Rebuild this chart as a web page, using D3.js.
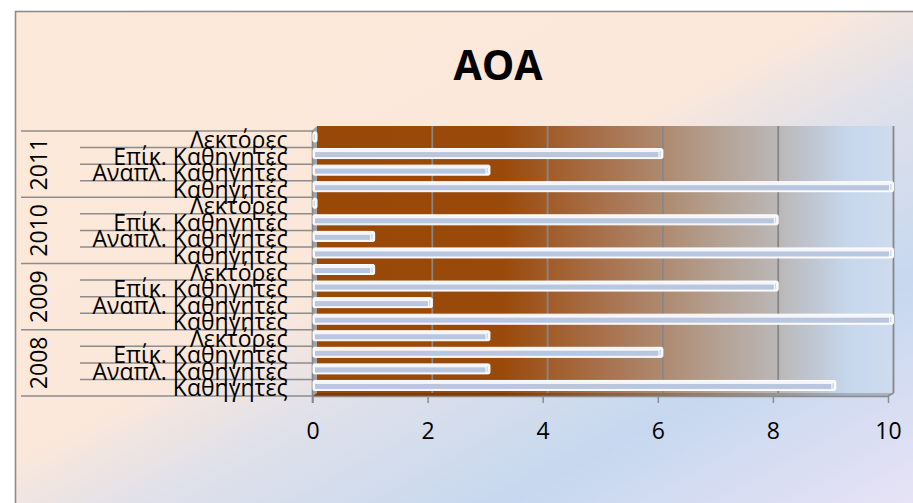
<!DOCTYPE html>
<html><head><meta charset="utf-8">
<script src="https://cdn.jsdelivr.net/npm/d3@7/dist/d3.min.js"></script>
<style>body{margin:0;background:#fff}svg{display:block}</style>
</head><body><svg id="c" width="913" height="503"></svg>
<script>
const title = "ΑΟΑ";
const years = ["2008","2009","2010","2011"];
const categories = ["Καθηγητές","Αναπλ. Καθηγητές","Επίκ. Καθηγητές","Λεκτόρες"];
const values2008 = [9,3,6,3];
const values2009 = [10,2,8,1];
const values2010 = [10,1,8,0];
const values2011 = [10,3,6,0];
const xTicks = [0,2,4,6,8,10];

const series = [values2008, values2009, values2010, values2011];
const rows = [];
years.forEach((y,i)=>categories.forEach((c,j)=>rows.push({key:y+"|"+c, year:y, cat:c, value:series[i][j]})));

const svg = d3.select("#c");
const defs = svg.append("defs");
const bg = defs.append("linearGradient").attr("id","bg").attr("x1",0).attr("y1",0).attr("x2",1).attr("y2",1);
[[0,"#fde9d9"],[0.42,"#fce8da"],[0.53,"#e0e1ea"],[0.72,"#c6d8ef"],[1,"#f3e6f8"]].forEach(s=>bg.append("stop").attr("offset",s[0]).attr("stop-color",s[1]));

const wall = defs.append("linearGradient").attr("id","wall").attr("gradientUnits","userSpaceOnUse")
  .attr("x1",317).attr("y1",0).attr("x2",894).attr("y2",0);
[[0,"#984807"],[0.32,"#994909"],[0.42,"#a26030"],[0.5,"#a8724e"],[0.6,"#ae8a70"],[0.7,"#b4a294"],[0.8,"#bbb7b8"],[0.86,"#bfc6d2"],[0.92,"#c6d7ec"],[1,"#cfdbee"]]
  .forEach(s=>wall.append("stop").attr("offset",s[0]).attr("stop-color",s[1]));

// chart area
svg.append("rect").attr("x",15.5).attr("y",11.5).attr("width",966).attr("height",529)
  .attr("fill","url(#bg)").attr("stroke","#8c8c8c").attr("stroke-width",1.6);

// title
svg.append("text").attr("x",498).attr("y",80).attr("text-anchor","middle")
  .attr("font-family","Open Sans").attr("font-weight","bold").attr("font-size",41).attr("fill","#000").text(title);

const wallTop = 126, wallBottom = 393, floorFront = 396;
const xb = d3.scaleLinear().domain([0,10]).range([317,893.5]);   // back wall
const xa = d3.scaleLinear().domain([0,10]).range([312.5,888]);   // front axis
const yb = d3.scaleBand().domain(rows.map(d=>d.key)).range([396,131]).padding(0);

// back wall
svg.append("rect").attr("x",xb(0)).attr("y",wallTop).attr("width",xb(10)-xb(0)).attr("height",wallBottom-wallTop).attr("fill","url(#wall)");
// gridlines
svg.selectAll("line.grid").data(xTicks.slice(1)).join("line").attr("class","grid")
  .attr("x1",d=>xb(d)).attr("x2",d=>xb(d)).attr("y1",wallTop).attr("y2",wallBottom)
  .attr("stroke","#878787").attr("stroke-width",1.8);
// side wall
svg.append("polygon").attr("points",`${xa(0)},130 ${xb(0)},${wallTop} ${xb(0)},${wallBottom} ${xa(0)},${floorFront}`).attr("fill","#a3a3a3");
// floor
svg.append("polygon").attr("points",`${xa(0)},${floorFront} ${xb(0)},${wallBottom} ${xb(10)},${wallBottom} ${xa(10)},${floorFront}`).attr("fill","url(#wall)");
svg.append("polygon").attr("points",`${xa(0)},${floorFront} ${xb(0)},${wallBottom} ${xb(10)},${wallBottom} ${xa(10)},${floorFront}`).attr("fill","rgba(0,0,0,0.18)");
svg.append("line").attr("x1",xa(0)).attr("x2",xa(10)).attr("y1",floorFront+0.5).attr("y2",floorFront+0.5).attr("stroke","#8c8c8c").attr("stroke-width",1.5);
svg.append("line").attr("x1",xa(10)).attr("x2",xb(10)).attr("y1",floorFront).attr("y2",wallBottom).attr("stroke","#8c8c8c").attr("stroke-width",1.5);

// value axis
const gx = svg.append("g").attr("transform",`translate(0,${floorFront})`)
  .call(d3.axisBottom(xa).tickValues(xTicks).tickSize(7).tickPadding(20).tickFormat(d3.format("d")));
gx.select(".domain").remove();
gx.selectAll(".tick line").attr("stroke","#8c8c8c").attr("stroke-width",1.5);
gx.selectAll(".tick text").attr("font-family","Open Sans").attr("font-size",23).attr("fill","#000");

// category axis line
svg.append("line").attr("x1",xa(0)).attr("x2",xa(0)).attr("y1",130).attr("y2",floorFront+7).attr("stroke","#868686").attr("stroke-width",1.6);

// category boundary lines
const bounds = rows.map((d,i)=>({y:yb(d.key)+yb.bandwidth(), group: i%4===0}));
bounds.push({y:yb(rows[rows.length-1].key), group:true});
svg.selectAll("line.cb").data(bounds).join("line").attr("class","cb")
  .attr("x1",d=>d.group?21:80).attr("x2",xa(0)).attr("y1",d=>d.y).attr("y2",d=>d.y)
  .attr("stroke","#8c8c8c").attr("stroke-width",1.5);

// category labels
const gy = svg.append("g").attr("transform",`translate(${xa(0)},0)`)
  .call(d3.axisLeft(yb).tickSize(0).tickPadding(25).tickFormat(k=>k.split("|")[1]));
gy.select(".domain").remove();
gy.selectAll(".tick text").attr("font-family","Open Sans").attr("font-size",23).attr("fill","#000").attr("dy","0.38em");

// year labels
svg.selectAll("text.yr").data(years).join("text").attr("class","yr")
  .attr("transform",y=>{const cy=(yb(y+"|"+categories[0])+yb.bandwidth()+yb(y+"|"+categories[3]))/2;return `translate(47,${cy}) rotate(-90)`;})
  .attr("text-anchor","middle").attr("font-family","Open Sans").attr("font-size",23).attr("fill","#000").text(d=>d);

// bars
const bars = svg.selectAll("g.bar").data(rows).join("g").attr("class","bar");
bars.append("rect").attr("x",313).attr("y",d=>yb(d.key)+1).attr("width",d=>xb(d.value)-313).attr("height",10)
  .attr("rx",1.5).attr("fill","#f6f6f9").attr("stroke","#ffffff").attr("stroke-width",1);
bars.append("rect").attr("x",315).attr("y",d=>yb(d.key)+4.5).attr("width",d=>Math.max(0,xb(d.value)-313-6)).attr("height",5)
  .attr("fill","#b8c6e0");
bars.append("rect").attr("x",d=>xb(d.value)-4).attr("y",d=>yb(d.key)+3).attr("width",2.5).attr("height",6.5)
  .attr("fill","#d4dae6").attr("stroke","#ffffff").attr("stroke-width",0.8);
</script></body></html>
